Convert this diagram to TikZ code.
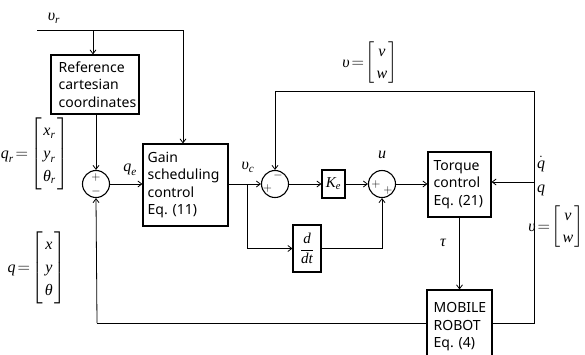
\documentclass[tikz,border=0pt]{standalone}
\usepackage{fontspec}
\usepackage{amsmath}
\setmainfont{Noto Sans}
\newfontfamily\tnr{Liberation Serif}
\usetikzlibrary{arrows.meta}
\newcommand{\vi}[1]{\text{\tnr\itshape #1}}
\newcommand{\mcol}[1]{\setlength{\arraycolsep}{1.5pt}\renewcommand{\arraystretch}{1.2}\left[\begin{array}{c}#1\end{array}\right]}
\begin{document}
\begin{tikzpicture}[x=1pt,y=-1pt,font=\fontsize{14}{17.5}\selectfont,
  blk/.style={draw,line width=1.1pt,inner sep=0pt},
  txt/.style={inner sep=0pt,align=left,anchor=west},
  sumc/.style={draw,circle,line width=1.1pt,minimum size=27pt,inner sep=0pt},
  ln/.style={line width=0.8pt},
  arr/.style={ln,-{Straight Barb[length=4pt,width=6pt]}},
  lbl/.style={inner sep=0pt,font=\fontsize{16}{19}\selectfont},
  sgn/.style={inner sep=0pt,font=\fontsize{12}{12}\selectfont}]
\useasboundingbox (0,0) rectangle (585,354);
% blocks
\node[blk,minimum width=88pt,minimum height=59pt] (ref) at (95,84.5) {};
\node[txt] (reft) at ([xshift=8pt]ref.west) {Reference\\cartesian\\coordinates};
\node[blk,minimum width=85pt,minimum height=82pt] (gain) at (185.5,185) {};
\node[txt] (gaint) at ([xshift=5pt]gain.west) {Gain\\scheduling\\control\\Eq. (11)};
\node[blk,minimum width=63pt,minimum height=65pt] (torque) at (459.5,184.5) {};
\node[txt] (torquet) at ([xshift=6pt]torque.west) {Torque\\control\\Eq. (21)};
\node[blk,minimum width=65pt,minimum height=70pt] (mobile) at (459.5,325) {};
\node[txt] (mobilet) at ([xshift=7pt,yshift=-2pt]mobile.west) {MOBILE\\ROBOT\\Eq. (4)};
\node[blk,minimum width=23pt,minimum height=28pt,font=\fontsize{15}{17}\selectfont] (ke) at (333.5,184) {$\vi{K}_{\vi{e}}$};
\node[blk,minimum width=28pt,minimum height=47pt,font=\fontsize{15}{17}\selectfont] (dd) at (307,248.5) {$\dfrac{\vi{d}}{\vi{dt}}$};
% summing junctions
\node[sumc] (s1) at (96,184) {};
\node[sumc] (s2) at (275,184) {};
\node[sumc] (s3) at (382,184) {};
\node[sgn] (s1p) at (96,177) {$+$};
\node[sgn] (s1m) at (96,191.5) {$-$};
\node[sgn] (s2m) at (278,175.5) {$-$};
\node[sgn] (s2p) at (267.5,188) {$+$};
\node[sgn] (s3p) at (376,184) {$+$};
\node[sgn] (s3q) at (388,190) {$+$};
% coordinates
\coordinate (vrs) at (37,30);
\coordinate (vrc) at (183,30);
\coordinate (j1) at (93,30);
\coordinate (br) at (247,184);
\coordinate (rt) at (534,91);
\coordinate (rb) at (534,323);
\coordinate (rq) at (534,182);
\coordinate (lb) at (97,323);
\coordinate (tl) at (275,91);
% connectors
\draw[ln] (vrs) -- (vrc);
\draw[arr] (vrc) -- (vrc |- gain.north);
\draw[arr] (j1) -- (j1 |- ref.north);
\draw[arr] (ref.south -| s1) -- (s1.north);
\draw[arr] (s1.east) -- (s1.east -| gain.west);
\draw[arr] (gain.east |- s2) -- (s2.west);
\draw[arr] (br) |- (dd.west);
\draw[arr] (s2.east) -- (ke.west);
\draw[arr] (ke.east) -- (s3.west);
\draw[arr] (dd.east) -| (s3.south);
\draw[arr] (s3.east) -- (s3.east -| torque.west);
\draw[arr] (torque.south) -- (mobile.north);
\draw[ln] (mobile.east |- rb) -- (rb) -- (rt) -- (tl);
\draw[arr] (tl) -- (s2.north);
\draw[arr] (rq) -- (rq -| torque.east);
\draw[ln] (mobile.west |- lb) -- (lb);
\draw[arr] (lb) -- (s1.south);
% labels
\node[lbl] (lvr) at (54,18) {$\vi{υ}_{\vi{r}}$};
\node[lbl] (lqe) at (130,170) {$\vi{q}_{\vi{e}}$};
\node[lbl] (lvc) at (248,167) {$\vi{υ}_{\vi{c}}$};
\node[lbl] (lu) at (382,155) {$\vi{u}$};
\node[lbl] (ltau) at (443,243) {$\vi{τ}$};
\node[lbl] (lqd) at (541,164) {$\dot{\vi{q}}$};
\node[lbl] (lq) at (541,190) {$\vi{q}$};
\node[lbl,anchor=east] (lqr) at (69,154) {$\vi{q}_{\vi{r}}\!=\!\mcol{\vi{x}_{\vi{r}}\\ \vi{y}_{\vi{r}}\\ \vi{θ}_{\vi{r}}}$};
\node[lbl,anchor=east] (lqv) at (66,268) {$\vi{q}\!=\!\mcol{\vi{x}\\ \vi{y}\\ \vi{θ}}$};
\node[lbl,anchor=east] (lvt) at (398,63) {$\vi{υ}\!=\!\mcol{\vi{v}\\ \vi{w}}$};
\node[lbl,anchor=east] (lvr2) at (584,227) {$\vi{υ}\!=\!\mcol{\vi{v}\\ \vi{w}}$};
\end{tikzpicture}
\end{document}
